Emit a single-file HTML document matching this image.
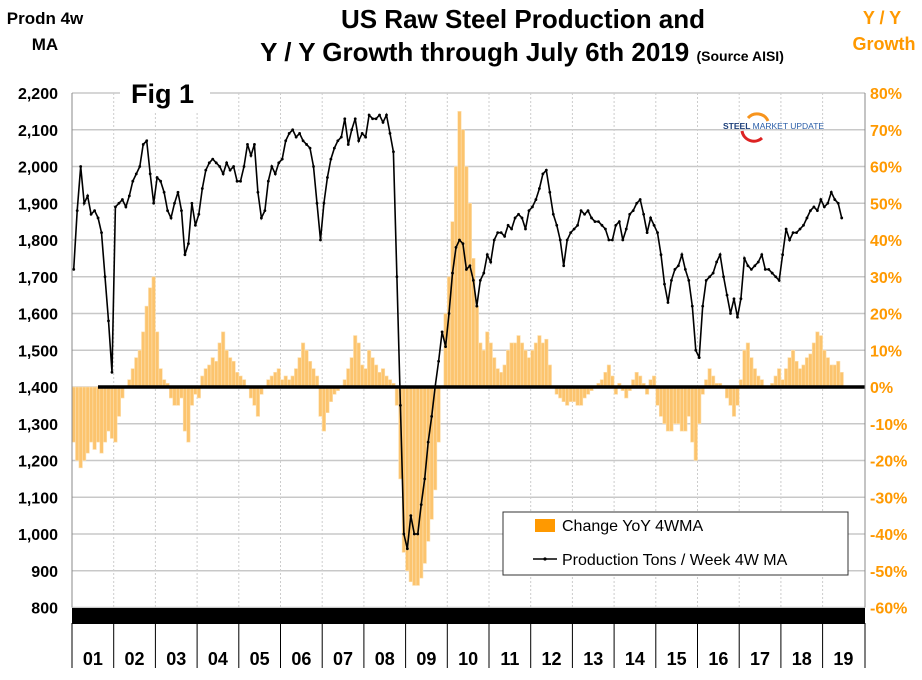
<!DOCTYPE html>
<html><head><meta charset="utf-8"><style>
body{margin:0;background:#fff;width:922px;height:675px;overflow:hidden;font-family:"Liberation Sans",Arial,sans-serif}
svg text{font-family:"Liberation Sans",Arial,sans-serif}
</style></head><body>
<svg id="chart" width="922" height="675" viewBox="0 0 922 675" xmlns="http://www.w3.org/2000/svg">
<g id="grid"></g>
<g id="bars"></g>
<line x1="98" y1="387" x2="865" y2="387" stroke="#000" stroke-width="3.5"/>
<g id="line"></g>
<g id="axes"></g>
<text x="45" y="24" text-anchor="middle" font-size="17" font-weight="bold">Prodn 4w</text>
<text x="45" y="50" text-anchor="middle" font-size="17" font-weight="bold">MA</text>
<text x="523" y="28" text-anchor="middle" font-size="26" font-weight="bold">US Raw Steel Production and</text>
<text x="522" y="61" text-anchor="middle" font-size="26" font-weight="bold">Y / Y Growth through July 6th 2019 <tspan font-size="14">(Source AISI)</tspan></text>
<text x="882" y="24" text-anchor="middle" font-size="18" font-weight="bold" fill="#f90">Y / Y</text>
<text x="884" y="50" text-anchor="middle" font-size="18" font-weight="bold" fill="#f90">Growth</text>
<rect x="120" y="72" width="90" height="40" fill="#fff"/>
<text x="131" y="103" font-size="27" font-weight="bold">Fig 1</text>
<g>
<path d="M748 118 A12 12 0 0 1 768 121" stroke="#f7941d" stroke-width="3" fill="none"/>
<path d="M742 131 A12 12 0 0 0 762 138" stroke="#d22" stroke-width="3" fill="none"/>
<text x="723" y="129" font-size="8.5" font-weight="bold" fill="#1c3f7a">STEEL <tspan font-weight="normal" fill="#2a5ea8">MARKET UPDATE</tspan></text>
</g>
<g>
<rect x="503" y="512" width="345" height="63" fill="#fff" stroke="#333" stroke-width="1"/>
<rect x="535" y="519" width="20" height="13" fill="#f90"/>
<text x="562" y="531" font-size="16">Change YoY 4WMA</text>
<line x1="533" y1="559" x2="557" y2="559" stroke="#000" stroke-width="1.5"/><circle cx="545" cy="559" r="1.6"/>
<text x="562" y="565" font-size="16">Production Tons / Week 4W MA</text>
</g>
</svg>
<script>
const years=["01","02","03","04","05","06","07","08","09","10","11","12","13","14","15","16","17","18","19"];
const leftTicks=[800,900,1000,1100,1200,1300,1400,1500,1600,1700,1800,1900,2000,2100,2200];
const rightTicks=[-60,-50,-40,-30,-20,-10,0,10,20,30,40,50,60,70,80];
const production=[
1720,1880,2000,1900,1920,1870,1880,1860,1820,1700,1580,1440,
1890,1900,1910,1890,1920,1960,1980,2000,2060,2070,1980,1900,
1970,1960,1930,1880,1860,1900,1930,1880,1760,1790,1900,1840,
1870,1940,1990,2010,2020,2010,2000,1980,2010,1990,2000,1960,
1960,2000,2060,2030,2060,1930,1860,1880,1960,2000,1980,2010,
2020,2070,2090,2100,2080,2090,2070,2060,2050,2000,1900,1800,
1900,1970,2020,2050,2070,2080,2130,2060,2100,2130,2070,2090,
2080,2140,2130,2130,2140,2120,2140,2090,2040,1700,1350,1000,
960,1050,1000,1000,1080,1150,1250,1320,1400,1470,1550,1510,
1600,1710,1780,1800,1790,1720,1730,1690,1620,1690,1710,1760,
1740,1800,1820,1820,1810,1840,1830,1860,1870,1860,1830,1880,
1890,1910,1940,1980,1990,1930,1870,1840,1800,1730,1800,1820,
1830,1840,1880,1870,1880,1860,1850,1850,1840,1830,1800,1800,
1840,1850,1800,1830,1870,1880,1900,1910,1870,1820,1860,1840,
1820,1760,1680,1630,1690,1720,1730,1760,1720,1690,1620,1500,
1480,1620,1690,1700,1710,1740,1760,1700,1650,1600,1640,1590,
1640,1750,1730,1720,1730,1740,1760,1720,1720,1710,1700,1690,
1760,1830,1800,1820,1820,1830,1840,1860,1880,1890,1880,1910,
1890,1900,1930,1910,1900,1860];
const yoy=[
-15,-20,-22,-20,-18,-15,-17,-15,-18,-15,-12,-14,
-15,-8,-3,0,2,5,8,10,15,22,27,30,
15,5,2,1,-3,-5,-5,-3,-12,-15,-5,-2,
-3,3,5,6,8,7,12,15,10,8,7,4,
3,2,0,-3,-5,-8,-2,0,2,3,4,5,
2,3,2,3,5,8,12,10,7,5,3,-8,
-12,-7,-4,-2,-1,0,2,5,8,14,12,6,
5,10,8,6,4,5,3,2,1,-5,-25,-45,
-50,-53,-54,-54,-52,-48,-42,-36,-28,-15,0,20,
30,45,60,75,70,60,50,35,22,12,10,15,
12,8,5,4,6,10,12,12,14,12,10,8,
10,12,14,12,13,6,0,-2,-3,-4,-5,-4,
-4,-5,-5,-3,-2,-1,0,1,2,4,6,3,
-2,1,-1,-3,-1,2,4,3,1,-2,2,3,
-5,-8,-10,-12,-12,-10,-10,-12,-12,-8,-15,-20,
-10,-2,2,5,3,1,1,0,-3,-5,-8,-5,
2,10,12,8,5,3,2,0,0,1,3,5,
2,5,8,10,7,5,6,8,9,12,15,14,
10,8,6,6,7,4];
const NS="http://www.w3.org/2000/svg";
const X0=72,YW=41.7,PT=93,PB=607.5;
const xm=i=>X0+(i+0.5)*YW/12;
const yL=v=>PB-(v-800)/1400*(PB-PT);
const yR=p=>PB-(p+60)/140*(PB-PT);
function mk(t,a,p){const e=document.createElementNS(NS,t);for(const k in a)e.setAttribute(k,a[k]);p.appendChild(e);return e;}
const grid=document.getElementById('grid'),axes=document.getElementById('axes');
leftTicks.forEach((v,i)=>{
 const g=mk('line',{x1:X0,x2:865,y1:yL(v),y2:yL(v),stroke:'#c8c8c8','stroke-width':1.5},grid);
 
 
 const t=mk('text',{x:58,y:yL(v)+6,'text-anchor':'end','font-size':16,'font-weight':'bold'},axes);
 t.textContent=v.toLocaleString('en-US');
 
 
});
rightTicks.forEach(p=>{
 const t=mk('text',{x:870,y:yR(p)+6,'font-size':16,'font-weight':'bold',fill:'#f90'},axes);
 t.textContent=p+'%';
 
 
});
years.forEach((y,i)=>{
 const x=X0+i*YW;
 if(i>0){const g=mk('line',{x1:x,x2:x,y1:PT,y2:PB,stroke:'#ccc','stroke-dasharray':'2,2'},grid);
 
 }
 mk('line',{x1:x,x2:x,y1:623,y2:668,stroke:'#000','stroke-width':1},axes);
 const t=mk('text',{x:x+YW/2,y:665,'text-anchor':'middle','font-size':18,'font-weight':'bold'},axes);
 t.textContent=y;
 
 
});
mk('line',{x1:865,x2:865,y1:623,y2:668,stroke:'#000'},axes);
mk('line',{x1:X0,x2:X0,y1:PT,y2:PB,stroke:'#888'},axes);
mk('line',{x1:865,x2:865,y1:PT,y2:PB,stroke:'#888'},axes);
const band=mk('rect',{x:X0,y:608,width:793,height:16,fill:'#000'},axes);


const bars=document.getElementById('bars');
yoy.forEach((p,i)=>{
 const y0=yR(0),y1=yR(p);
 const r=mk('rect',{x:xm(i)-YW/24,y:Math.min(y0,y1),width:YW/12,height:Math.abs(y1-y0),fill:'#fcc46e',stroke:'#fde0b0','stroke-width':0.6},bars);
 
 
});
const lg=document.getElementById('line');
const pts=production.map((v,i)=>xm(i).toFixed(1)+','+yL(v).toFixed(1)).join(' ');
const pl=mk('polyline',{points:pts,fill:'none',stroke:'#000','stroke-width':1.6},lg);


production.forEach((v,i)=>{
 const c=mk('circle',{cx:xm(i),cy:yL(v),r:1.4,fill:'#000'},lg);
 
 
});
</script>
</body></html>
